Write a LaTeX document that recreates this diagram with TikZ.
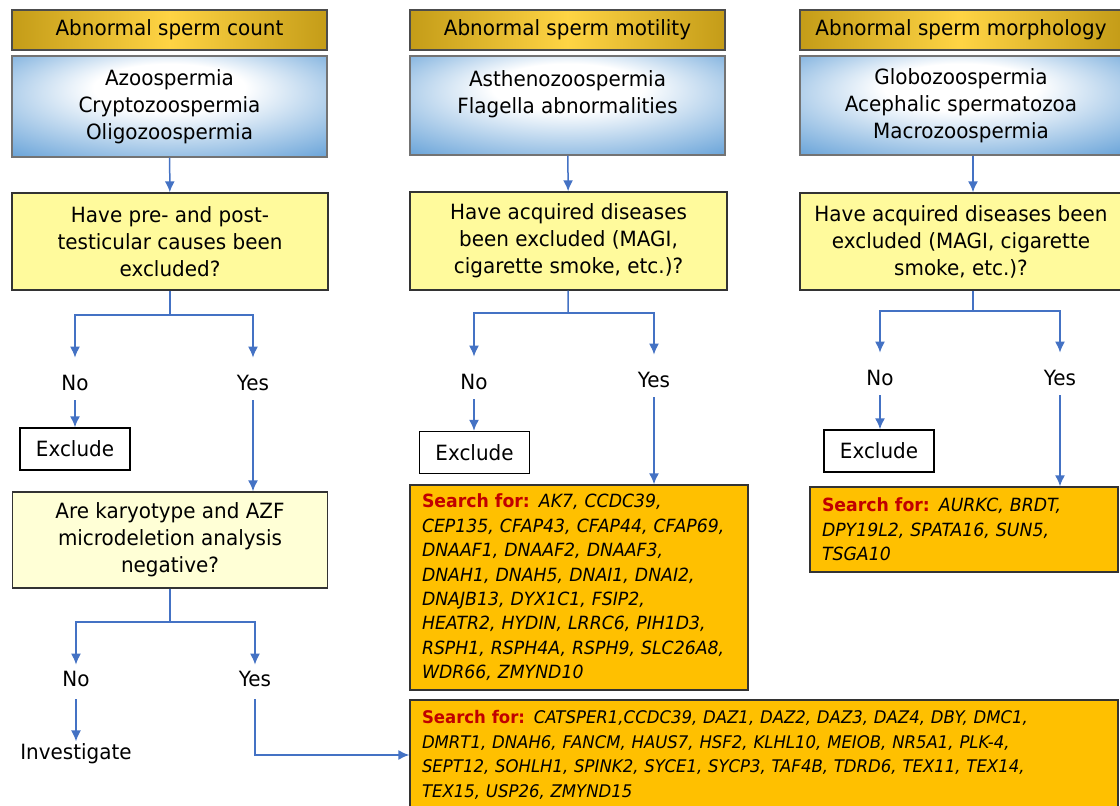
\documentclass[tikz,border=0pt]{standalone}
\usepackage{fontspec}
\setmainfont{DejaVu Sans}[FakeStretch=0.95]
\usetikzlibrary{arrows.meta}

\definecolor{headgold}{HTML}{C49C18}
\definecolor{headlight}{HTML}{FFD444}
\definecolor{kindblue}{HTML}{5B9BD5}
\definecolor{askyellow}{HTML}{FFFA9C}
\definecolor{askpale}{HTML}{FFFFD6}
\definecolor{geneorange}{HTML}{FFC000}
\definecolor{flowblue}{HTML}{4472C4}
\definecolor{searchred}{HTML}{C00000}

\pgfdeclareradialshading{kindshade}{\pgfpoint{0bp}{12bp}}{%
  color(0bp)=(white); color(12bp)=(white); color(40bp)=(kindblue); color(50bp)=(kindblue)}

\newcommand{\searchfor}{\textcolor{searchred}{\bfseries\upshape Search for:}}

\tikzset{
  txt/.style={font=\fontsize{10.5}{13.5}\selectfont},
  head/.style={txt, draw=black!70, line width=0.7pt, left color=headgold,
    right color=headgold, middle color=headlight, minimum height=20pt},
  kind/.style={txt, draw=black!55, line width=0.7pt, shading=kindshade, align=center},
  ask/.style={txt, draw=black!80, line width=0.7pt, fill=askyellow, align=center},
  ans/.style={txt, anchor=base, inner ysep=0pt, text height=16.5pt, text depth=4.5pt},
  excl/.style={txt, draw=black, line width=0.7pt, fill=white,
    minimum width=55pt, minimum height=21pt},
  genes/.style={draw=black!80, line width=0.7pt, fill=geneorange, align=left,
    inner xsep=6pt, font=\fontsize{9.1}{12.2}\selectfont\itshape},
  flow/.style={->, draw=flowblue, line width=0.75pt},
  link/.style={draw=flowblue, line width=0.75pt}
}

\begin{document}
\begin{tikzpicture}[x=0.5pt, y=-0.5pt, >={Latex[length=5.5pt,width=5pt]}]
  \useasboundingbox (0,0) rectangle (1120,806);

  % Column headers and the kinds of defect.
  \node[head, minimum width=157.5pt] (head1) at (169.5,30) {Abnormal sperm count};
  \node[head, minimum width=157.5pt] (head2) at (567.5,30) {Abnormal sperm motility};
  \node[head, minimum width=161pt] (head3) at (961,30) {Abnormal sperm morphology};
  \node[kind, minimum width=157.5pt, minimum height=50.5pt] (kind1) at (169.5,106.5)
    {Azoospermia\\Cryptozoospermia\\Oligozoospermia};
  \node[kind, minimum width=157.5pt, minimum height=49.5pt] (kind2) at (567.5,105.5)
    {Asthenozoospermia\\Flagella abnormalities\\\mbox{}};
  \node[kind, minimum width=161pt, minimum height=49.5pt] (kind3) at (961,105.5)
    {Globozoospermia\\Acephalic spermatozoa\\Macrozoospermia};

  % First questions.
  \node[ask, minimum width=158pt, minimum height=48.5pt] (ask1) at (170,241.5)
    {Have pre- and post-\\testicular causes been\\excluded?};
  \node[ask, minimum width=158.5pt, minimum height=49pt] (ask2) at (568.5,241)
    {Have acquired diseases\\been excluded (MAGI,\\cigarette smoke, etc.)?};
  \node[ask, minimum width=161pt, minimum height=48.5pt] (ask3) at (961,241.5)
    {Have acquired diseases been\\excluded (MAGI, cigarette\\smoke, etc.)?};
  \draw[flow] (kind1) -- (ask1);
  \draw[flow] (kind2) -- (ask2);
  \draw[flow] ([xshift=6pt]kind3.south) -- ([xshift=6pt]ask3.north);

  % Answers.
  \coordinate (fork1) at (170,315);
  \coordinate (fork2) at (568,313);
  \coordinate (fork3) at (973,311);
  \node[ans] (no1) at (75,391) {No};
  \node[ans] (yes1) at (253,391) {Yes};
  \node[ans] (no2) at (474,390) {No};
  \node[ans] (yes2) at (654,388) {Yes};
  \node[ans] (no3) at (880,386) {No};
  \node[ans] (yes3) at (1060,386) {Yes};
  \draw[link] (ask1) -- (fork1);
  \draw[link] (ask2) -- (fork2);
  \draw[link] ([xshift=6pt]ask3.south) -- (fork3);
  \foreach \i in {1,2,3} {
    \draw[flow] (fork\i) -| (no\i);
    \draw[flow] (fork\i) -| (yes\i);
  }

  % Exclude.
  \node[excl] (excl1) at (75,449) {Exclude};
  \node[excl] (excl2) at (474.5,452.5) {Exclude};
  \node[excl] (excl3) at (879,451) {Exclude};
  \foreach \i in {1,2,3}
    \draw[flow] (no\i) -- (no\i |- excl\i.north);

  % Genes to search for.
  \node[genes, text width=157pt, minimum height=102.5pt] (genes2) at (579,587.5)
    {\searchfor{} AK7, CCDC39,\\
     CEP135, CFAP43, CFAP44, CFAP69,\\
     DNAAF1, DNAAF2, DNAAF3,\\
     DNAH1, DNAH5, DNAI1, DNAI2,\\
     DNAJB13, DYX1C1, FSIP2,\\
     HEATR2, HYDIN, LRRC6, PIH1D3,\\
     RSPH1, RSPH4A, RSPH9, SLC26A8,\\
     WDR66, ZMYND10};
  \node[genes, text width=142pt, minimum height=42.5pt] (genes3) at (964,529.5)
    {\searchfor{} AURKC, BRDT,\\
     DPY19L2, SPATA16, SUN5,\\
     TSGA10};
  \node[genes, font=\fontsize{8.7}{12.2}\selectfont\itshape, text width=342pt,
    minimum height=55pt] (genes1) at (764,755)
    {\searchfor{} CATSPER1,CCDC39, DAZ1, DAZ2, DAZ3, DAZ4, DBY, DMC1,\\
     DMRT1, DNAH6, FANCM, HAUS7, HSF2, KLHL10, MEIOB, NR5A1, PLK-4,\\
     SEPT12, SOHLH1, SPINK2, SYCE1, SYCP3, TAF4B, TDRD6, TEX11, TEX14,\\
     TEX15, USP26, ZMYND15};
  \draw[flow] (yes2) -- (yes2 |- genes2.north);
  \draw[flow] (yes3) -- (yes3 |- genes3.north);

  % Second question for the count column.
  \node[ask, fill=askpale, minimum width=157.5pt, minimum height=48pt] (ask4) at (170,540)
    {Are karyotype and AZF\\microdeletion analysis\\negative?};
  \draw[flow] (yes1) -- (yes1 |- ask4.north);
  \coordinate (fork4) at (170,622);
  \node[ans, text height=11pt, text depth=6pt] (no4) at (76,687) {No};
  \node[ans, text height=11pt, text depth=6pt] (yes4) at (255,687) {Yes};
  \node[txt, inner sep=1pt] (invest) at (76,754) {Investigate};
  \draw[link] (ask4) -- (fork4);
  \draw[flow] (fork4) -| (no4);
  \draw[flow] (fork4) -| (yes4);
  \draw[flow] (no4) -- (invest);
  \draw[flow] (yes4) |- (genes1);
\end{tikzpicture}
\end{document}
